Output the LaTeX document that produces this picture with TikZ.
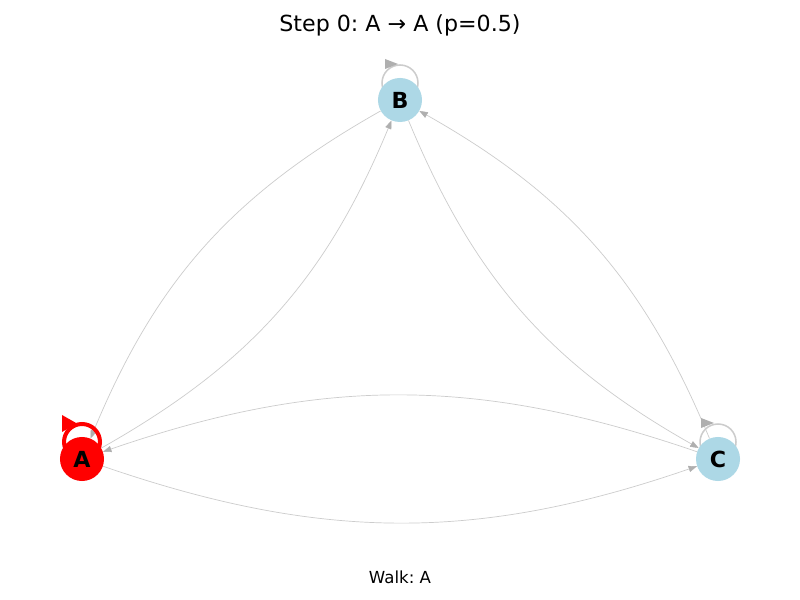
\documentclass[tikz,border=0pt]{standalone}
\usepackage{fontspec}
\setmainfont{DejaVu Sans}
\usepackage{tikz}
\usetikzlibrary{arrows.meta,backgrounds}
\frenchspacing

\definecolor{nodeblue}{HTML}{ADD8E6}
\definecolor{edgegray}{HTML}{CCCCCC}
\definecolor{tipgray}{HTML}{AFAFAF}

\begin{document}
\begin{tikzpicture}[
  x=0.01in, y=0.01in,
  state/.style={circle,fill=nodeblue,minimum size=0.44in,inner sep=0pt,font=\fontsize{16}{19}\selectfont\bfseries},
  current/.style={state,fill=red},
  edge/.style={draw=edgegray,line width=0.5pt,bend right=19,
    -{Triangle[length=6pt,width=4.5pt,line width=0.3pt,fill=tipgray,color=tipgray]}},
  loopgray/.style={draw=edgegray,line width=1.1pt},
  loopred/.style={draw=red,line width=2.9pt}
]

\def\selfloop[#1]#2;{
  \draw[#1] (#2.center) ++(-18,17) arc[start angle=180,end angle=-180,radius=18];
}

\useasboundingbox (0,0) rectangle (800,600);

% states
\node[current] (A) at (82,141) {A};
\node[state] (B) at (400,500) {B};
\node[state] (C) at (718,141) {C};

% transitions
\begin{scope}[on background layer]
\fill[white] (0,0) rectangle (800,600);

\draw[edge] (A) to (B);
\draw[edge] (B) to (A);
\draw[edge] (B) to (C);
\draw[edge] (C) to (B);
\draw[edge] (A) to (C);
\draw[edge] (C) to (A);

\selfloop[loopgray] B;
\fill[tipgray] ([shift={(-2,36)}]B.center) -- ++(-13,5) -- ++(0,-10) -- cycle;
\selfloop[loopgray] C;
\fill[tipgray] ([shift={(-4,36)}]C.center) -- ++(-13,5) -- ++(0,-10) -- cycle;
\selfloop[loopred] A;
\fill[red] ([shift={(-5,35.5)}]A.center) -- ++(-15,8.5) -- ++(0,-17) -- cycle;
\end{scope}

\node[font=\fontsize{16}{19}\selectfont] (title) at (400,575) {Step 0: A → A (p=0.5)};
\node[font=\fontsize{12}{14}\selectfont] (walk) at (400,23) {Walk: A};

\end{tikzpicture}
\end{document}
